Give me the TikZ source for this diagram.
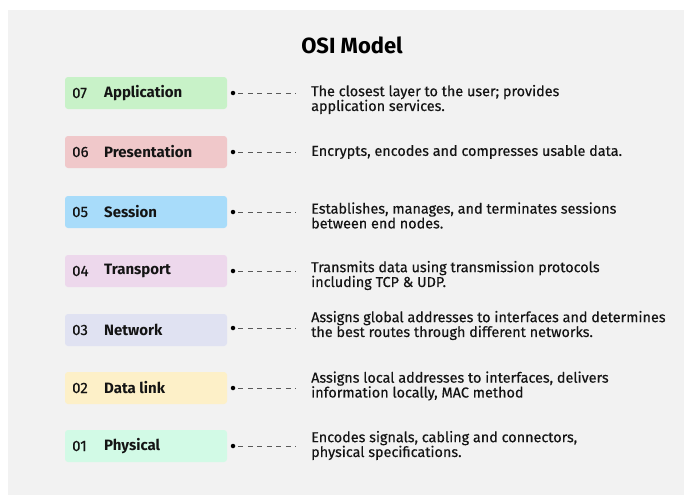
\documentclass[tikz,border=0pt]{standalone}
\usepackage{fontspec}
\setmainfont{Fira Sans}
\newfontfamily\descfont[FakeBold=0.35]{Fira Sans}
\definecolor{bgc}{HTML}{F2F2F2}
\definecolor{c7}{HTML}{C8F2C8}
\definecolor{c6}{HTML}{F0C8CA}
\definecolor{c5}{HTML}{A8DCFA}
\definecolor{c4}{HTML}{EDD8EC}
\definecolor{c3}{HTML}{E0E2F2}
\definecolor{c2}{HTML}{FDF0C8}
\definecolor{c1}{HTML}{D2FAE6}
\definecolor{txt}{HTML}{141414}
\tikzset{
  layerbox/.style={rounded corners=3pt, minimum width=162pt, minimum height=32pt, inner sep=0pt, draw=none},
  numtxt/.style={anchor=west, inner sep=0pt, text=txt, font=\descfont\fontsize{15}{17}\selectfont},
  nametxt/.style={anchor=west, inner sep=0pt, text=txt, font=\bfseries\fontsize{15}{17}\selectfont},
  dotc/.style={circle, fill=black, minimum size=4.5pt, inner sep=0pt},
  desc/.style={anchor=west, inner sep=0pt, align=left, text=txt, font=\descfont\fontsize{14.4}{14.8}\selectfont},
  dashln/.style={draw=gray!70!black, line width=0.8pt, dash pattern=on 5pt off 4.5pt, shorten <=3pt, shorten >=15pt},
}
\begin{document}
\begin{tikzpicture}[x=1pt,y=-1pt]
\useasboundingbox (0,0) rectangle (684,495);
\fill[white] (0,0) rectangle (684,495);
\fill[bgc] (8,10) rectangle (684,495);
\node[font=\bfseries\fontsize{22}{24}\selectfont, text=black] (title) at (352,45) {OSI Model};

% layer 7
\node[layerbox, fill=c7] (L7) at (146,93) {};
\node[numtxt] (n7) at (72,93) {07};
\node[nametxt] (m7) at (104,93) {Application};
\node[dotc] (d7) at (233,93) {};
\node[desc] (t7) at (311,99.5) {The closest layer to the user; provides\\application services.};
\draw[dashln] (d7) -- (d7 -| t7.west);

% layer 6
\node[layerbox, fill=c6] (L6) at (146,152) {};
\node[numtxt] (n6) at (72,152) {06};
\node[nametxt] (m6) at (104,152) {Presentation};
\node[dotc] (d6) at (233,152) {};
\node[desc] (t6) at (311,152) {Encrypts, encodes and compresses usable data.};
\draw[dashln] (d6) -- (d6 -| t6.west);

% layer 5
\node[layerbox, fill=c5] (L5) at (146,212) {};
\node[numtxt] (n5) at (72,212) {05};
\node[nametxt] (m5) at (104,212) {Session};
\node[dotc] (d5) at (233,212) {};
\node[desc] (t5) at (311,215.5) {Establishes, manages, and terminates sessions\\between end nodes.};
\draw[dashln] (d5) -- (d5 -| t5.west);

% layer 4
\node[layerbox, fill=c4] (L4) at (146,271) {};
\node[numtxt] (n4) at (72,271) {04};
\node[nametxt] (m4) at (104,271) {Transport};
\node[dotc] (d4) at (233,271) {};
\node[desc] (t4) at (311,275.5) {Transmits data using transmission protocols\\including TCP \& UDP.};
\draw[dashln] (d4) -- (d4 -| t4.west);

% layer 3
\node[layerbox, fill=c3] (L3) at (146,330) {};
\node[numtxt] (n3) at (72,330) {03};
\node[nametxt] (m3) at (104,330) {Network};
\node[dotc] (d3) at (233,328) {};
\node[desc] (t3) at (311,325.5) {Assigns global addresses to interfaces and determines\\the best routes through different networks.};
\draw[dashln] (d3) -- (d3 -| t3.west);

% layer 2
\node[layerbox, fill=c2] (L2) at (146,388) {};
\node[numtxt] (n2) at (72,388) {02};
\node[nametxt] (m2) at (104,388) {Data link};
\node[dotc] (d2) at (233,388) {};
\node[desc] (t2) at (311,386) {Assigns local addresses to interfaces, delivers\\information locally, MAC method};
\draw[dashln] (d2) -- (d2 -| t2.west);

% layer 1
\node[layerbox, fill=c1] (L1) at (146,446) {};
\node[numtxt] (n1) at (72,446) {01};
\node[nametxt] (m1) at (104,446) {Physical};
\node[dotc] (d1) at (233,446) {};
\node[desc] (t1) at (311,445.5) {Encodes signals, cabling and connectors,\\physical specifications.};
\draw[dashln] (d1) -- (d1 -| t1.west);
\end{tikzpicture}
\end{document}
